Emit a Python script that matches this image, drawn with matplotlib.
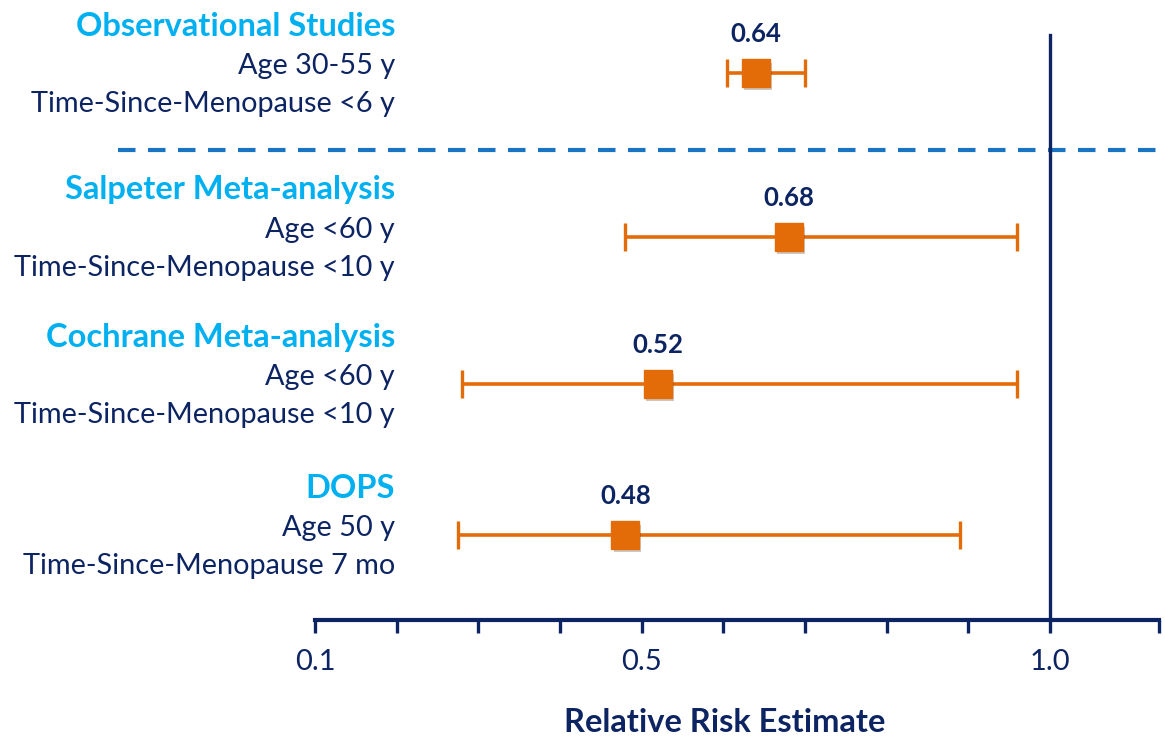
import matplotlib.pyplot as plt
import matplotlib.patheffects as pe

# study groups, top to bottom
studies = ['Observational Studies', 'Salpeter Meta-analysis',
           'Cochrane Meta-analysis', 'DOPS']
ages = ['Age 30-55 y', 'Age <60 y', 'Age <60 y', 'Age 50 y']
menopause = ['Time-Since-Menopause <6 y', 'Time-Since-Menopause <10 y',
             'Time-Since-Menopause <10 y', 'Time-Since-Menopause 7 mo']
rr = [0.64, 0.68, 0.52, 0.48]
ci_low = [0.605, 0.48, 0.28, 0.275]
ci_high = [0.70, 0.96, 0.96, 0.89]

tick_vals = [0.1, 0.2, 0.3, 0.4, 0.5, 0.6, 0.7, 0.8, 0.9, 1.0, 1.1335]
tick_text = ['0.1', '', '', '', '0.5', '', '', '', '', '1.0', '']

navy = '#0d2463'
sky = '#00b0f0'
orange = '#e36c09'
dash_blue = '#1a74c4'

plt.rcParams['font.family'] = ['Lato', 'DejaVu Sans']

W, H = 1165, 743
fig = plt.figure(figsize=(W / 100, H / 100), dpi=100)
# axes box in pixels: x 315..1159, y 0..620 from top
ax = fig.add_axes([315 / W, (H - 620) / H, 844 / W, 620 / H])
ax.set_xlim(0.1, 1.1335)
ax.set_ylim(620, 0)

row_y = [73, 237, 384, 535]
text_x = 0.198

for i in range(len(studies)):
    y = row_y[i]
    ax.errorbar(rr[i], y, xerr=[[rr[i] - ci_low[i]], [ci_high[i] - rr[i]]],
                fmt='none', ecolor=orange, elinewidth=2.6, capsize=10,
                capthick=2.4, zorder=3)
    ax.plot(rr[i], y, marker='s', markersize=20, color=orange, zorder=4,
            path_effects=[pe.SimplePatchShadow(offset=(1.5, -2.5), alpha=0.25),
                          pe.Normal()])
    ax.text(rr[i], y - 39, f'{rr[i]:.2f}', ha='center', va='center',
            fontsize=18.5, fontweight='bold', color=navy)
    ax.text(text_x, y - 47, studies[i], ha='right', va='center',
            fontsize=23.5, fontweight='bold', color=sky, clip_on=False)
    ax.text(text_x, y - 7, ages[i], ha='right', va='center',
            fontsize=20.8, color=navy, clip_on=False)
    ax.text(text_x, y + 31, menopause[i], ha='right', va='center',
            fontsize=20.8, color=navy, clip_on=False)

# reference line at RR = 1
ax.plot([1.0, 1.0], [35, 620], color=navy, lw=2.4, zorder=2, clip_on=False)

# separator between observational data and trials
ax.plot([-0.141, 1.135], [150, 150], color=dash_blue, lw=3,
        dashes=(4.2, 3), zorder=1, clip_on=False)

for side in ['top', 'right', 'left']:
    ax.spines[side].set_visible(False)
ax.spines['bottom'].set_color(navy)
ax.spines['bottom'].set_linewidth(3)
ax.set_yticks([])
ax.set_xticks(tick_vals)
ax.set_xticklabels(tick_text)
ax.tick_params(axis='x', direction='out', length=9, width=2.4, color=navy,
               labelcolor=navy, labelsize=21, pad=12)

fig.text(725 / W, 1 - 722 / H, 'Relative Risk Estimate', ha='center',
         va='center', fontsize=23.5, fontweight='bold', color=navy)

fig.savefig('out.png', dpi=100)
